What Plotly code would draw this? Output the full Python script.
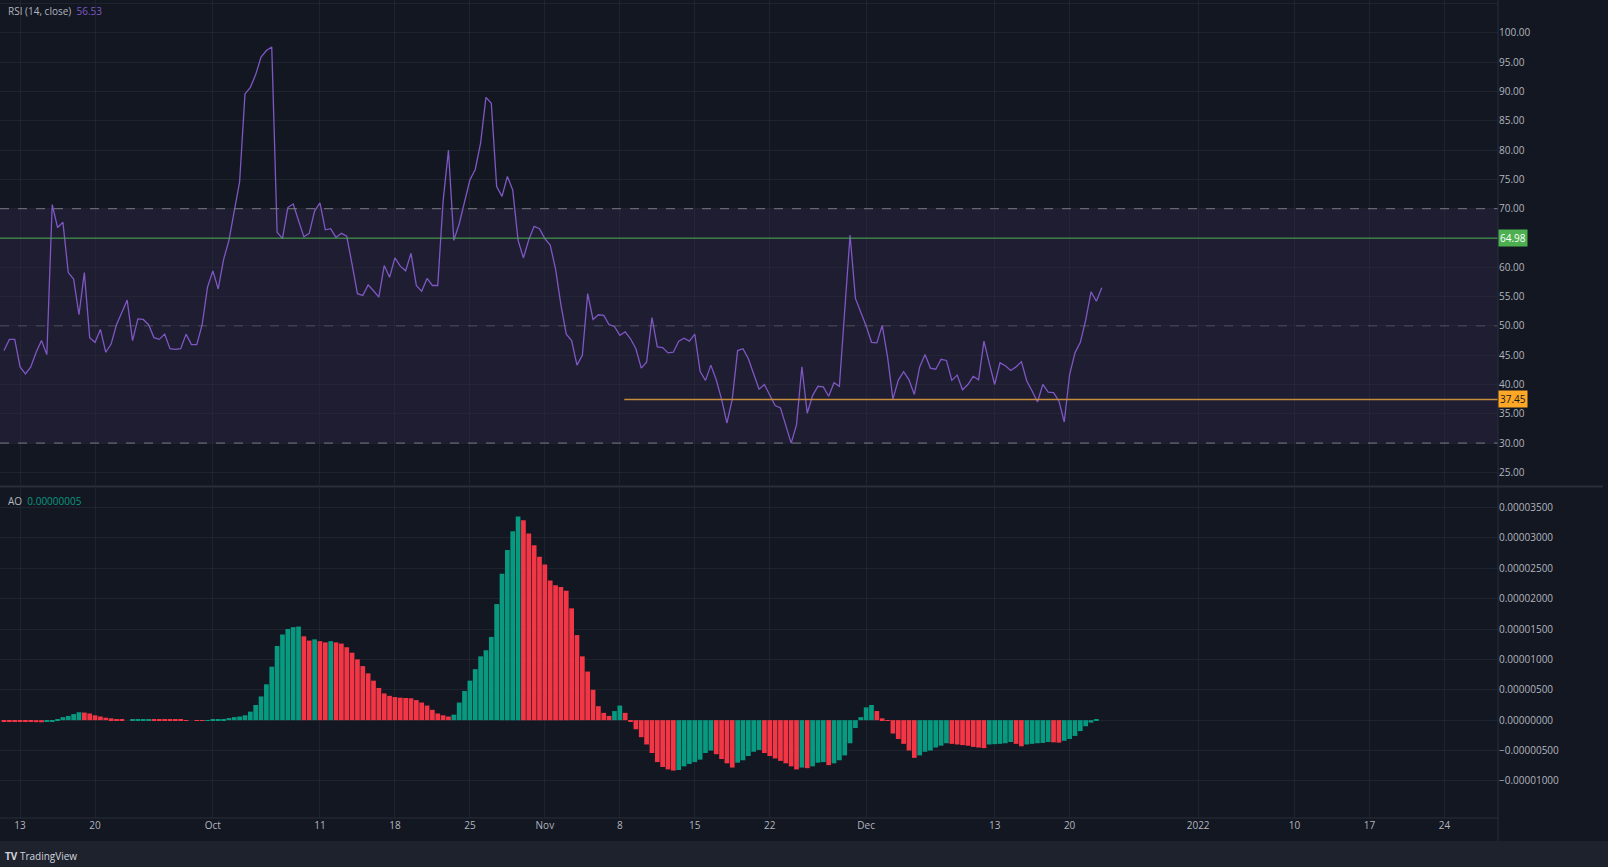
import pandas as pd
import plotly.graph_objects as go

rsi_values = [45.8,47.7,47.7,43.0,41.8,43.0,45.5,47.5,45.1,70.7,66.8,67.7,59.1,58.0,51.9,59.1,48.0,47.2,49.4,45.5,46.9,50.2,52.3,54.4,47.5,51.2,51.1,50.2,48.0,47.7,48.6,46.1,46.0,46.1,48.6,46.8,46.8,50.2,56.6,59.4,56.3,61.3,64.6,69.6,74.6,89.6,90.7,92.9,95.9,97.0,97.6,66.0,64.9,70.2,70.8,68.0,65.2,65.8,69.6,71.0,66.4,66.6,65.1,65.8,65.3,60.5,55.5,55.2,57.0,56.0,54.9,60.3,58.3,61.6,60.2,59.4,62.4,56.9,55.9,58.1,56.9,56.9,71.3,80.0,64.6,67.4,71.0,74.9,76.7,81.2,89.0,88.0,73.8,72.1,75.5,73.2,64.6,61.6,64.7,67.0,
66.6,64.9,63.8,59.7,53.6,48.6,47.5,43.3,45.0,55.5,51.1,51.9,51.8,50.2,49.9,48.4,49.0,47.8,46.1,42.8,43.8,51.4,46.4,46.3,45.4,45.5,47.4,47.9,47.4,48.6,42.2,40.7,43.3,40.8,37.5,33.4,37.5,45.8,46.1,44.4,41.8,39.2,40.0,38.1,36.4,36.0,33.1,30.0,33.1,43.0,35.1,38.1,39.7,39.6,38.0,40.3,39.7,52.5,65.5,54.7,52.5,50.0,47.2,47.1,50.1,44.7,37.5,40.7,42.2,40.8,38.3,43.0,45.1,42.8,42.6,44.3,44.1,40.7,41.6,39.1,40.0,41.4,40.8,47.4,43.6,40.0,43.7,43.2,42.4,43.0,43.9,40.6,38.9,37.0,40.0,38.7,38.6,37.2,33.6,41.7,45.4,47.2,51.0,55.8,54.2,56.53]

# AO in units of 1e-6
ao_micro = [-0.15,-0.18,-0.2,-0.22,-0.25,-0.28,-0.33,-0.35,-0.3,-0.15,0.1,0.5,0.7,1.0,1.3,
1.25,1.1,0.8,0.6,0.4,0.3,0.15,0.05,0.0,0.05,0.1,0.12,0.15,0.14,0.12,0.1,0.08,0.06,0.04,0.02,0.0,-0.05,-0.1,
-0.05,0.05,0.15,0.2,0.35,0.5,0.6,0.8,1.4,2.5,3.9,5.9,8.8,12.2,14.1,15.0,15.3,15.4,
13.8,13.1,13.3,13.0,12.8,13.0,12.8,12.6,12.0,11.1,10.0,8.9,7.7,6.5,5.3,4.4,4.0,3.8,3.7,3.65,3.6,3.3,2.9,2.4,1.7,1.1,0.8,0.6,
0.9,2.9,4.8,6.5,8.4,10.5,11.5,13.7,19.1,24.1,28.0,31.1,33.5,
32.9,30.7,28.8,26.9,25.6,23.0,22.2,21.9,21.3,18.4,14.0,10.5,8.0,5.0,2.3,1.2,0.7,1.5,2.4,
1.2,-0.2,-1.5,-2.8,-4.0,-5.4,-6.9,-7.7,-8.1,-8.3,
-8.2,-7.6,-7.2,-6.9,-6.5,-5.4,-5.0,
-5.6,-6.4,-7.1,-7.8,
-7.0,-6.6,-5.9,-5.2,-4.9,
-5.4,-5.9,-6.3,-6.7,-7.1,-7.6,-8.1,
-7.8,-7.9,-7.6,-7.0,-6.9,-7.4,
-7.1,-6.6,-5.8,-3.8,-1.3,0.5,2.1,2.5,
1.5,0.3,-0.1,-2.2,-3.1,-3.9,-5.0,-6.2,
-5.8,-5.2,-5.0,-4.5,-4.2,-3.8,
-3.9,-4.0,-4.1,-4.2,-4.4,-4.5,-4.6,
-4.0,-3.95,-3.9,-3.8,-3.6,-3.9,-4.3,
-4.0,-3.9,-3.8,-3.75,-3.6,-3.65,-3.7,
-3.4,-3.1,-2.6,-1.8,-1.0,-0.4,0.05]

tick_dates = ["2021-09-13","2021-09-20","2021-10-01","2021-10-11","2021-10-18","2021-10-25","2021-11-01",
              "2021-11-08","2021-11-15","2021-11-22","2021-12-01","2021-12-13","2021-12-20","2022-01-01",
              "2022-01-10","2022-01-17","2022-01-24"]
tick_labels = ["13","20","Oct","11","18","25","Nov","8","15","22","Dec","13","20","2022","10","17","24"]
ao_ticks = [-10e-6, -5e-6, 0, 5e-6, 10e-6, 15e-6, 20e-6, 25e-6, 30e-6, 35e-6]

resistance_level = 64.98
support_level = 37.45
support_start = "2021-11-08 10:00"
start = pd.Timestamp("2021-09-11 12:00")
x_range = ["2021-09-11 03:00", "2022-01-29 00:00"]

rsi_dates = pd.date_range(start, periods=len(rsi_values), freq="12h")
ao_dates = pd.date_range(start, periods=len(ao_micro), freq="12h")
ao = [v * 1e-6 for v in ao_micro]
ao_colors = ["#f23645"] + ["#089981" if ao[i] > ao[i-1] else "#f23645" for i in range(1, len(ao))]

BG = "#131722"
GRID = "rgba(42,46,57,0.55)"
TXT = "#b2b5be"

fig = go.Figure()
fig.add_trace(go.Scatter(x=rsi_dates, y=rsi_values, mode="lines",
                         line=dict(color="#7e57c2", width=1.3), xaxis="x", yaxis="y", showlegend=False))
fig.add_trace(go.Bar(x=ao_dates, y=ao, marker=dict(color=ao_colors, line=dict(width=0)),
                     xaxis="x2", yaxis="y2", showlegend=False))

shapes = [
    dict(type="rect", xref="paper", yref="y", x0=0, x1=1, y0=30, y1=70,
         fillcolor="rgba(126,87,194,0.1)", line=dict(width=0), layer="below"),
    dict(type="line", xref="paper", yref="y", x0=0, x1=1, y0=70, y1=70, line=dict(color="#787b86", width=1, dash="dash")),
    dict(type="line", xref="paper", yref="y", x0=0, x1=1, y0=50, y1=50, line=dict(color="rgba(120,123,134,0.5)", width=1, dash="dash")),
    dict(type="line", xref="paper", yref="y", x0=0, x1=1, y0=30, y1=30, line=dict(color="#787b86", width=1, dash="dash")),
    dict(type="line", xref="paper", yref="y", x0=0, x1=1, y0=resistance_level, y1=resistance_level, line=dict(color="#4caf50", width=1)),
    dict(type="line", xref="x", yref="y", x0=support_start, x1=x_range[1], y0=support_level, y1=support_level, line=dict(color="#c88d3c", width=1.5)),
    dict(type="line", xref="paper", yref="paper", x0=0, x1=1.07, y0=0.4052, y1=0.4052, line=dict(color="#2a2e39", width=2)),
    dict(type="line", xref="paper", yref="paper", x0=1, x1=1, y0=-0.028, y1=1, line=dict(color="#2a2e39", width=1)),
    dict(type="line", xref="paper", yref="paper", x0=0, x1=1, y0=0, y1=0, line=dict(color="#2a2e39", width=1)),
    dict(type="rect", xref="paper", yref="paper", x0=-0.01, x1=1.1, y0=-0.07, y1=-0.0281,
         fillcolor="#1e222d", line=dict(width=0)),
]

annotations = [
    dict(xref="paper", yref="paper", x=0.004, y=0.997, xanchor="left", yanchor="top", showarrow=False,
         text="<span style='color:#b2b5be'>RSI (14, close)</span>  <span style='color:#7e57c2'>56.53</span>",
         font=dict(size=10, color=TXT)),
    dict(xref="paper", yref="paper", x=0.004, y=0.399, xanchor="left", yanchor="top", showarrow=False,
         text="<span style='color:#b2b5be'>AO</span>  <span style='color:#089981'>0.00000005</span>",
         font=dict(size=10, color=TXT)),
    dict(xref="paper", yref="y", x=1.0, y=resistance_level, xanchor="left", yanchor="middle", showarrow=False,
         text="64.98", bgcolor="#4caf50", font=dict(size=10, color="#ffffff"), borderpad=1),
    dict(xref="paper", yref="y", x=1.0, y=support_level, xanchor="left", yanchor="middle", showarrow=False,
         text="37.45", bgcolor="#ffa726", font=dict(size=10, color="#131722"), borderpad=1),
    dict(xref="paper", yref="paper", x=0.002, y=-0.0465, xanchor="left", yanchor="middle", showarrow=False,
         text="<b>TV</b> TradingView", font=dict(size=10, color="#d1d4dc")),
]

fig.update_layout(
    width=1608, height=867, margin=dict(l=0, r=110, t=0, b=49),
    paper_bgcolor=BG, plot_bgcolor=BG, bargap=0.12,
    font=dict(family="Open Sans, sans-serif", color=TXT, size=11),
    shapes=shapes, annotations=annotations,
    xaxis=dict(domain=[0, 1], range=x_range, anchor="y", tickvals=tick_dates, ticktext=tick_labels,
               showticklabels=False, showgrid=True, gridcolor=GRID, zeroline=False, matches="x2"),
    xaxis2=dict(domain=[0, 1], range=x_range, anchor="y2", tickvals=tick_dates, ticktext=tick_labels,
                showgrid=True, gridcolor=GRID, zeroline=False, ticks="", tickfont=dict(size=10, color=TXT)),
    yaxis=dict(domain=[0.407, 1], range=[22.83, 105.63], side="right", dtick=5, tick0=0, tickformat=".2f",
               showgrid=True, gridcolor=GRID, zeroline=False, tickfont=dict(size=10, color=TXT)),
    yaxis2=dict(domain=[0, 0.4034], range=[-16.1e-6, 38.2e-6], side="right", tickvals=ao_ticks, tickformat=".8f",
                showgrid=True, gridcolor=GRID, zeroline=False, tickfont=dict(size=10, color=TXT)),
)

fig.write_html("out.html", config={"displayModeBar": False},
               post_script="document.body.style.margin='0';document.body.style.background='#131722';")
